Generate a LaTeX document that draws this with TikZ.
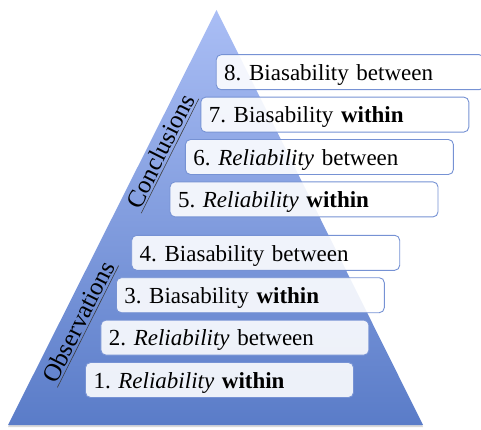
\documentclass[tikz,border=0pt]{standalone}
\usepackage{fontspec}
\setmainfont{Liberation Serif}
\usetikzlibrary{positioning,shadows}
\definecolor{pyrtop}{RGB}{170,190,245}
\definecolor{pyrbot}{RGB}{90,124,200}
\definecolor{boxline}{RGB}{118,146,212}
\frenchspacing

\begin{document}
\begin{tikzpicture}[x=1pt,y=1pt]
	\tikzstyle{level} = [draw=boxline, line width=0.9pt, fill=white, fill opacity=0.89, text opacity=1, rounded corners=5pt, text width=252pt, align=left, inner xsep=8pt, inner ysep=4pt, text height=21.8pt, text depth=5.2pt, font=\fontsize{23}{28}\selectfont]
	\tikzstyle{side} = [rotate=63.3, anchor=south, inner sep=2pt, font=\fontsize{25}{30}\selectfont]
	\tikzstyle{labelline} = [line width=0.6pt, black!75]
	\useasboundingbox (0,0) rectangle (481,429);
	\clip (0,0) rectangle (481,429);
	% pyramid
	\path[top color=pyrtop, bottom color=pyrbot, drop shadow={opacity=0.3, shadow xshift=0pt, shadow yshift=-2pt}]
		(216.5,419) coordinate(apex) -- (423,4) coordinate(br) -- (8,4) coordinate(bl) -- cycle;
	% side labels
	\node[side](obs) at (88,102.5){Observations};
	\draw[labelline](obs.south west) -- (obs.south east);
	\node[side](conc) at (170,273){Conclusions};
	\draw[labelline](conc.south west) -- (conc.south east);
	% levels
	\node[level](r1) at (219.5,49){1. \textit{Reliability} \textbf{within}};
	\node[level, above=6.5pt of r1, xshift=15.4pt](r2){2. \textit{Reliability} between};
	\node[level, above=6.5pt of r2, xshift=15.4pt](r3){3. Biasability \textbf{within}};
	\node[level, above=6.5pt of r3, xshift=15.4pt](r4){4. Biasability between};
	\node[level, above=17.5pt of r4, xshift=38.3pt](r5){5. \textit{Reliability} \textbf{within}};
	\node[level, above=6.5pt of r5, xshift=15.4pt](r6){6. \textit{Reliability} between};
	\node[level, above=6.5pt of r6, xshift=15.4pt](r7){7. Biasability \textbf{within}};
	\node[level, above=6.5pt of r7, xshift=15.4pt](r8){8. Biasability between};
\end{tikzpicture}
\end{document}
